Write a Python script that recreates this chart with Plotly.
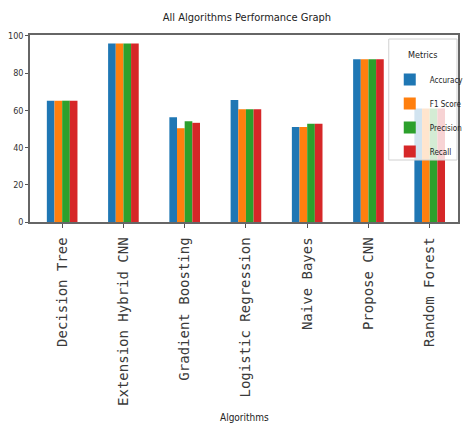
import plotly.graph_objects as go

# Algorithms compared and their scores (%) per metric
algorithms = [
    "Decision Tree",
    "Extension Hybrid CNN",
    "Gradient Boosting",
    "Logistic Regression",
    "Naive Bayes",
    "Propose CNN",
    "Random Forest",
]
accuracy = [65.2, 95.9, 56.3, 65.6, 51.0, 87.5, 61.0]
f1_score = [65.2, 95.9, 50.4, 60.6, 51.0, 87.5, 61.0]
precision = [65.2, 95.9, 54.2, 60.6, 52.8, 87.5, 61.0]
recall = [65.2, 95.9, 53.3, 60.6, 52.8, 87.5, 61.0]

metric_names = ["Accuracy", "F1 Score", "Precision", "Recall"]
metric_values = [accuracy, f1_score, precision, recall]
metric_colors = ["#1f77b4", "#ff7f0e", "#2ca02c", "#d62728"]

y_ticks = [0, 20, 40, 60, 80, 100]

cond = "DejaVu Sans Condensed, DejaVu Sans, sans-serif"

# plot area in pixels: bottom at 222, top at 35
def py(pix):
    return (222 - pix) / 187

def px(pix):
    return (pix - 30) / 439

fig = go.Figure()
for name, vals, col in zip(metric_names, metric_values, metric_colors):
    fig.add_trace(go.Bar(
        x=list(range(len(algorithms))),
        y=vals,
        name=name,
        legendgroup=name,
        marker=dict(color=col, line=dict(width=0)),
    ))

fig.update_layout(
    width=469,
    height=428,
    margin=dict(l=30, r=0, t=35, b=206),
    paper_bgcolor="white",
    plot_bgcolor="white",
    barmode="group",
    bargap=0.5,
    bargroupgap=0,
    title=dict(
        text="All Algorithms Performance Graph",
        x=0.507, xref="paper", xanchor="center",
        y=1 - 17 / 428, yref="container", yanchor="middle",
        font=dict(family=cond, size=11, color="#222"),
    ),
    showlegend=True,
    legend=dict(
        x=px(399), y=py(65), xanchor="left", yanchor="top",
        bgcolor="rgba(0,0,0,0)",
        borderwidth=0,
        font=dict(family=cond, size=8, color="#222"),
        tracegroupgap=5,
        itemwidth=30,
    ),
    xaxis=dict(
        range=[-0.525, 6.462],
        tickmode="array",
        tickvals=list(range(len(algorithms))),
        ticktext=algorithms,
        tickangle=-90,
        ticks="outside", ticklen=4, tickcolor="#555", tickwidth=1,
        tickfont=dict(family="DejaVu Sans Mono, monospace", size=14, color="#3a3a3a"),
        showline=True, linecolor="#666", linewidth=1.5, mirror=True,
        showgrid=False, zeroline=False,
        ticklabelstandoff=4,
    ),
    yaxis=dict(
        range=[0, 100.5],
        tickmode="array",
        tickvals=y_ticks,
        ticks="outside", ticklen=3, tickcolor="#555", tickwidth=1,
        tickfont=dict(family=cond, size=9, color="#333"),
        showline=True, linecolor="#666", linewidth=1.5, mirror=True,
        showgrid=False, zeroline=False,
    ),
)

# legend frame and title
fig.add_shape(
    type="rect", xref="paper", yref="paper",
    x0=px(398), x1=px(468), y0=py(160), y1=py(39),
    fillcolor="rgba(255,255,255,0.8)",
    line=dict(color="#d0d0d0", width=1),
    layer="above",
)
fig.add_annotation(
    text="Metrics",
    xref="paper", yref="paper",
    x=px(433), y=py(55),
    xanchor="center", yanchor="middle",
    showarrow=False,
    font=dict(family=cond, size=9, color="#222"),
)

fig.add_annotation(
    text="Algorithms",
    xref="paper", yref="paper",
    x=0.5, y=py(418),
    xanchor="center", yanchor="middle",
    showarrow=False,
    font=dict(family=cond, size=10, color="#222"),
)

fig.write_html("out.html")
